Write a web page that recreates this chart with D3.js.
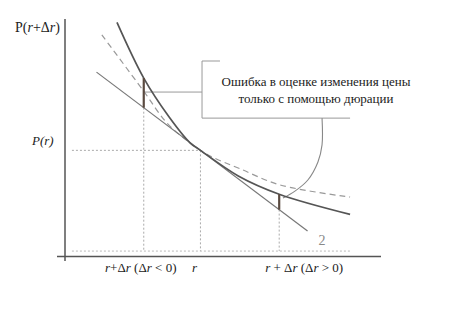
<!DOCTYPE html>
<html>
<head>
<meta charset="utf-8">
<script src="https://cdn.jsdelivr.net/npm/d3@7"></script>
<style>
  body { margin: 0; background: #fff; }
</style>
</head>
<body>
<div id="chart"></div>
<script>
// key rates and prices (chart units)
var rMinus = 2.5, r0 = 4.3, rPlus = 6.8;
var pR = 4.5;

// convex price curve (solid)
var priceX = [1.65, 2.5, 3.3, 3.97, 4.3, 5.5, 6.8, 9.05];
var priceY = [9.9, 7.55, 5.92, 4.82, 4.5, 3.42, 2.65, 1.8];

// second curve (dashed)
var dashX = [1.17, 2.48, 3.24, 3.97, 4.3, 4.7, 5.56, 6.83, 9.05];
var dashY = [9.37, 7.03, 5.65, 4.81, 4.5, 4.2, 3.72, 3.04, 2.53];

// tangent line (duration approximation)
var tanX = [1.0, 7.7];
var tanY = [7.8, 1.1];

// error bars: at rate, from tangent value to curve value
var barR = [rMinus, rPlus];
var barLo = [6.3, 2.0];
var barHi = [7.55, 2.65];

// callout leader curve
var leaderX = [8.16, 8.16, 8.03, 7.71, 7.30, 6.92];
var leaderY = [5.86, 4.73, 4.01, 3.25, 2.78, 2.49];

var calloutLines = ["Ошибка в оценке изменения цены", "только с помощью дюрации"];

var W = 476, H = 322;
var serif = "'Liberation Serif', 'Times New Roman', 'DejaVu Serif', serif";
var svg = d3.select("#chart").append("svg")
  .attr("width", W).attr("height", H)
  .attr("font-family", serif);

var x = d3.scaleLinear().domain([0, 10]).range([65, 380]);
var y = d3.scaleLinear().domain([0, 10]).range([257, 20]);

function seg(x1, y1, x2, y2, color, w, dash) {
  svg.append("line")
    .attr("x1", x(x1)).attr("y1", y(y1))
    .attr("x2", x(x2)).attr("y2", y(y2))
    .attr("stroke", color).attr("stroke-width", w)
    .attr("stroke-dasharray", dash || null);
}

// dotted guides
var dot = "2,2";
seg(0.22, pR, r0, pR, "#aaa", 1, dot);
seg(0.22, 0.25, 9.05, 0.25, "#bbb", 1, dot);
seg(r0, pR, r0, 0.25, "#aaa", 1, dot);
seg(rMinus, barLo[0], rMinus, 0.25, "#aaa", 1, dot);
seg(rPlus, barLo[1], rPlus, 0.25, "#aaa", 1, dot);

// axes
svg.append("line").attr("x1", x(0)).attr("x2", x(0))
  .attr("y1", 19).attr("y2", 261).attr("stroke", "#555").attr("stroke-width", 1.5);
svg.append("line").attr("x1", 57).attr("x2", 381)
  .attr("y1", 256.5).attr("y2", 256.5).attr("stroke", "#555").attr("stroke-width", 1.5);

// callout box
var boxC = "#999";
seg(4.35, 8.27, 4.92, 8.27, boxC, 1);
seg(4.35, 8.27, 4.35, 5.86, boxC, 1);
seg(4.35, 5.86, 9.05, 5.86, boxC, 1);
seg(rMinus, 6.96, 4.35, 6.96, boxC, 1);

var smooth = d3.line()
  .x(function(d) { return x(d[0]); })
  .y(function(d) { return y(d[1]); })
  .curve(d3.curveCatmullRom.alpha(0.5));

svg.append("path").datum(leaderX.map(function(v, i) { return [v, leaderY[i]]; }))
  .attr("d", smooth)
  .attr("fill", "none").attr("stroke", "#888").attr("stroke-width", 1.1);

// curves
svg.append("path").datum(dashX.map(function(v, i) { return [v, dashY[i]]; }))
  .attr("d", smooth).attr("fill", "none")
  .attr("stroke", "#999").attr("stroke-width", 1.2).attr("stroke-dasharray", "6,4");

svg.append("path").datum(tanX.map(function(v, i) { return [v, tanY[i]]; }))
  .attr("d", d3.line().x(function(d) { return x(d[0]); }).y(function(d) { return y(d[1]); }))
  .attr("fill", "none").attr("stroke", "#777").attr("stroke-width", 1.2);

svg.append("path").datum(priceX.map(function(v, i) { return [v, priceY[i]]; }))
  .attr("d", smooth).attr("fill", "none")
  .attr("stroke", "#555").attr("stroke-width", 1.7);

// error bars
barR.forEach(function(v, i) {
  seg(v, barLo[i], v, barHi[i], "#5a4a40", 2.2);
});

// labels
var t1 = svg.append("text").attr("x", 15).attr("y", 32)
  .attr("fill", "#222").style("font-size", "14px");
t1.append("tspan").text("P(");
t1.append("tspan").style("font-style", "italic").text("r");
t1.append("tspan").text("+Δ");
t1.append("tspan").style("font-style", "italic").text("r");
t1.append("tspan").text(")");

svg.append("text").attr("x", 32).attr("y", 145).attr("fill", "#222")
  .style("font-size", "13px").style("font-style", "italic").text("P(r)");

function xLabel(px, parts) {
  var t = svg.append("text").attr("x", px).attr("y", 272).attr("fill", "#222")
    .attr("text-anchor", "middle").style("font-size", "13px");
  parts.forEach(function(p) {
    t.append("tspan").style("font-style", p[1] ? "italic" : "normal").text(p[0]);
  });
}
xLabel(x(rMinus) - 3, [["r", 1], ["+Δ", 0], ["r", 1], [" (Δ", 0], ["r", 1], [" < 0)", 0]]);
xLabel(x(r0) - 6, [["r", 1]]);
xLabel(x(rPlus) + 25, [["r", 1], [" + Δ", 0], ["r", 1], [" (Δ", 0], ["r", 1], [" > 0)", 0]]);

svg.append("text").attr("x", 322).attr("y", 245).attr("text-anchor", "middle")
  .style("font-size", "14px").attr("fill", "#888").text("2");

svg.selectAll(".callout").data(calloutLines).enter().append("text")
  .attr("class", "callout")
  .attr("x", 316).attr("y", function(d, i) { return 86 + i * 17; })
  .attr("text-anchor", "middle").attr("fill", "#222").style("font-size", "13px")
  .text(function(d) { return d; });
</script>
</body>
</html>
